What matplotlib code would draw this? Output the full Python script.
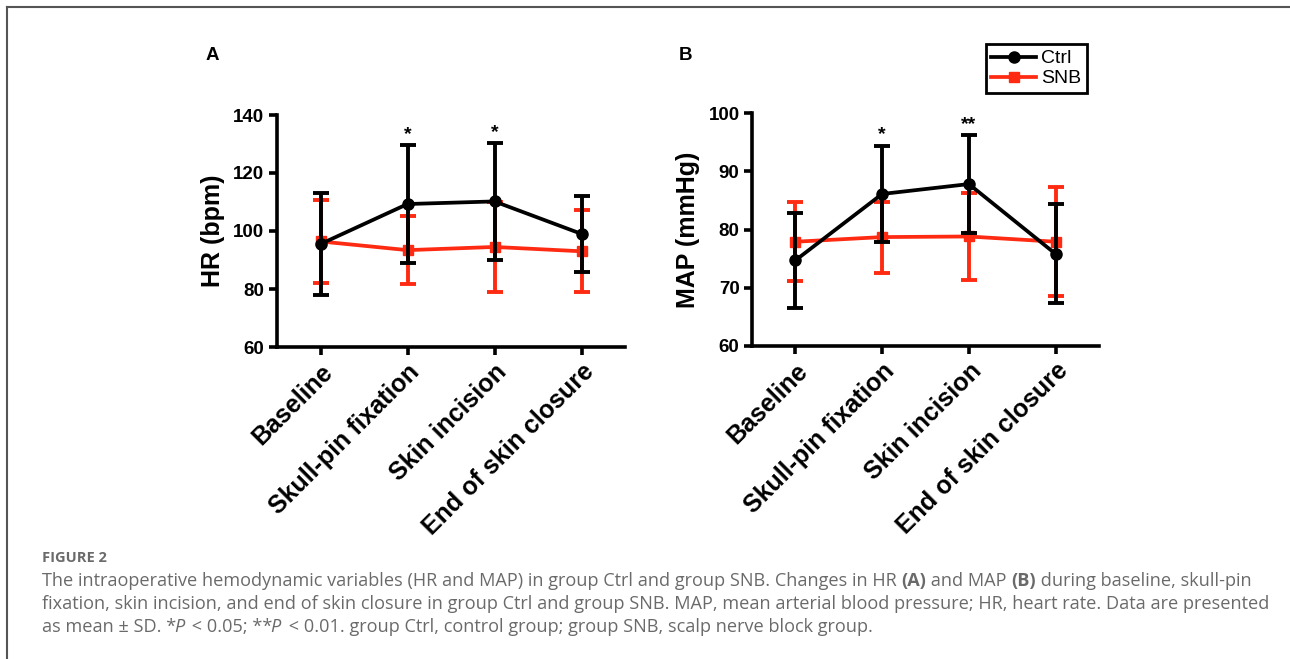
import matplotlib
matplotlib.use("Agg")
import matplotlib.pyplot as plt
from matplotlib.lines import Line2D

# values (mean and SD)
timepoints = ["Baseline", "Skull-pin fixation", "Skin incision", "End of skin closure"]

hr_ctrl_mean = [95.5, 109.3, 110.2, 99.0]
hr_ctrl_sd = [17.6, 20.3, 20.2, 13.1]
hr_snb_mean = [96.4, 93.4, 94.5, 93.0]
hr_snb_sd = [14.2, 11.7, 15.4, 14.1]

map_ctrl_mean = [74.7, 86.1, 87.8, 75.8]
map_ctrl_sd = [8.2, 8.3, 8.4, 8.5]
map_snb_mean = [77.9, 78.7, 78.8, 77.9]
map_snb_sd = [6.8, 6.1, 7.5, 9.4]

hr_sig = ["", "*", "*", ""]
map_sig = ["", "*", "**", ""]

RED = "#FF2A12"
FONT = "Liberation Sans"

plt.rcParams["font.family"] = FONT
fig = plt.figure(figsize=(12.9, 6.59), dpi=100)
W, H = 1290, 659


def panel(ax, ctrl_m, ctrl_sd, snb_m, snb_sd, sig, ylim, step, ylabel):
    x = list(range(len(timepoints)))
    ax.errorbar(x, snb_m, yerr=snb_sd, color=RED, lw=2.7, marker="s", ms=7,
                elinewidth=2.8, capsize=6, capthick=2.8, zorder=2)
    ax.errorbar(x, ctrl_m, yerr=ctrl_sd, color="black", lw=2.7, marker="o", ms=8,
                elinewidth=2.8, capsize=6, capthick=2.8, zorder=3)
    for xi, m, s, lab in zip(x, ctrl_m, ctrl_sd, sig):
        if lab:
            ax.annotate(lab, (xi, m + s), xytext=(0, 1.5), textcoords="offset points",
                        ha="center", va="bottom", fontsize=14, fontweight="bold")
    ax.set_xlim(-0.5, 3.5)
    ax.set_ylim(*ylim)
    ax.set_yticks(range(ylim[0], ylim[1] + 1, step))
    ax.set_xticks(x)
    ax.set_xticklabels(timepoints, rotation=45, ha="right", va="top",
                       rotation_mode="anchor", fontsize=18, fontweight="bold")
    for lab in ax.get_yticklabels():
        lab.set_fontsize(13.5)
        lab.set_fontweight("bold")
    ax.set_ylabel(ylabel, fontsize=18, fontweight="bold", labelpad=6)
    for side in ["top", "right"]:
        ax.spines[side].set_visible(False)
    for side in ["left", "bottom"]:
        ax.spines[side].set_linewidth(2.6)
    ax.tick_params(width=2.6, length=6, pad=3)


axA = fig.add_axes([277 / W, 1 - 347 / H, 348 / W, 232 / H])
panel(axA, hr_ctrl_mean, hr_ctrl_sd, hr_snb_mean, hr_snb_sd, hr_sig,
      (60, 140), 20, "HR (bpm)")

axB = fig.add_axes([752 / W, 1 - 346 / H, 347 / W, 233 / H])
panel(axB, map_ctrl_mean, map_ctrl_sd, map_snb_mean, map_snb_sd, map_sig,
      (60, 100), 10, "MAP (mmHg)")

fig.text(212 / W, 1 - 55 / H, "A", fontsize=13.5, fontweight="bold", ha="center", va="center")
fig.text(686 / W, 1 - 55 / H, "B", fontsize=13.5, fontweight="bold", ha="center", va="center")

handles = [Line2D([], [], color="black", lw=2.7, marker="o", ms=8),
           Line2D([], [], color=RED, lw=2.7, marker="s", ms=7)]
leg = fig.legend(handles, ["Ctrl", "SNB"], loc="upper right",
                 bbox_to_anchor=(1087 / W, 1 - 44 / H), fontsize=14,
                 fancybox=False, framealpha=1, edgecolor="black",
                 handlelength=2.3, handletextpad=0.25, borderpad=0.3,
                 labelspacing=0.12, borderaxespad=0)
leg.get_frame().set_linewidth(2)

# frame lines of the figure page
fig.add_artist(Line2D([7 / W, 1], [1 - 7 / H, 1 - 7 / H], transform=fig.transFigure,
                      color="#555555", lw=1.5))
fig.add_artist(Line2D([7 / W, 7 / W], [0, 1 - 7 / H], transform=fig.transFigure,
                      color="#555555", lw=1.5))

# caption
cap = fig.add_axes([0, 0, 1, 1])
cap.axis("off")
cap.set_zorder(-1)
GREY = "#6a6a6a"
CFONT = "Open Sans"
CSIZE = 13.1


def caption_line(segments, x, y):
    t = cap.text(x, y, segments[0][0], transform=fig.transFigure, family=CFONT,
                 fontsize=CSIZE, color=GREY, va="bottom", ha="left",
                 fontweight=segments[0][1], fontstyle=segments[0][2])
    prev_italic = False
    for s, w, st in segments[1:]:
        # italic glyph bboxes are a bit off, nudge the pieces by hand
        dx = -1.5 if st == "italic" else (2 if prev_italic else 0)
        t = cap.annotate(s, xy=(1, 0), xycoords=t, xytext=(dx, 0),
                         textcoords="offset points", va="bottom", ha="left",
                         family=CFONT, fontsize=CSIZE, color=GREY,
                         fontweight=w, fontstyle=st)
        prev_italic = st == "italic"


cap.text(42 / W, 1 - 565 / H, "FIGURE 2", transform=fig.transFigure, family=CFONT,
         fontsize=10.5, fontweight="bold", color=GREY, va="bottom")
caption_line([("The intraoperative hemodynamic variables (HR and MAP) in group Ctrl and group SNB. Changes in HR ", "normal", "normal"),
              ("(A)", "bold", "normal"),
              (" and MAP ", "normal", "normal"),
              ("(B)", "bold", "normal"),
              (" during baseline, skull-pin", "normal", "normal")],
             42 / W, 1 - 590 / H)
caption_line([("fixation, skin incision, and end of skin closure in group Ctrl and group SNB. MAP, mean arterial blood pressure; HR, heart rate. Data are presented", "normal", "normal")],
             42 / W, 1 - 613 / H)
caption_line([("as mean \u00b1 SD. *", "normal", "normal"),
              ("P", "normal", "italic"),
              (" < 0.05; **", "normal", "normal"),
              ("P", "normal", "italic"),
              (" < 0.01. group Ctrl, control group; group SNB, scalp nerve block group.", "normal", "normal")],
             42 / W, 1 - 636 / H)

fig.savefig("out.png", dpi=100, facecolor="white")
